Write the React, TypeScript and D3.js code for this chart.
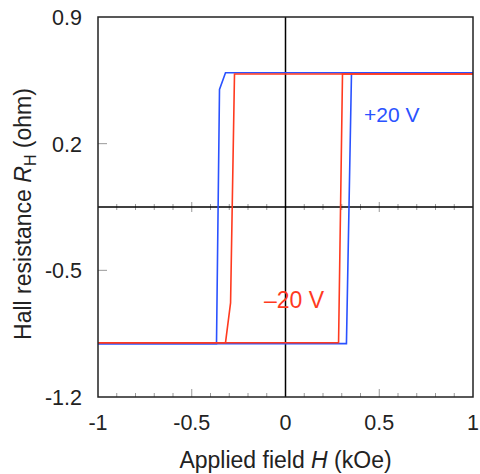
import React from "react";
import * as d3 from "d3";

const xTicks = [-1, -0.5, 0, 0.5, 1];
const xTickLabels = ["-1", "-0.5", "0", "0.5", "1"];
const yTicks = [0.9, 0.2, -0.5, -1.2];
const yTickLabels = ["0.9", "0.2", "-0.5", "-1.2"];
const minorX = d3.range(-9, 10).map((i) => i / 10);

// +20 V loop (H in kOe, R_H in ohm)
const bluePosH = [1, -0.32, -0.352, -0.368, -1];
const bluePosR = [0.592, 0.592, 0.5, -0.905, -0.905];
const blueRetH = [-1, 0.325, 0.352, 1];
const blueRetR = [-0.905, -0.905, 0.592, 0.592];

// -20 V loop
const redPosH = [1, -0.272, -0.293, -0.32, -1];
const redPosR = [0.585, 0.585, -0.68, -0.9, -0.9];
const redRetH = [-1, 0.283, 0.304, 1];
const redRetR = [-0.9, -0.9, 0.585, 0.585];

const W = 480, H = 474;
const L = 98, R = 473, T = 17, B = 397;
const BLUE = "#2a52ff";
const RED = "#ff3a1f";
const FONT = "Liberation Sans, Arial, sans-serif";

export default function App() {
  const x = d3.scaleLinear().domain([-1, 1]).range([L, R]);
  const y = d3.scaleLinear().domain([-1.2, 0.9]).range([B, T]);
  const line = d3.line<[number, number]>().x((d) => x(d[0])).y((d) => y(d[1]));
  const zip = (a: number[], b: number[]) => a.map((v, i) => [v, b[i]] as [number, number]);
  const midY = y(-0.15);

  return (
    <svg width={W} height={H} style={{ display: "block", position: "absolute", left: 0, top: 0 }} fontFamily={FONT}>
      <rect x={0} y={0} width={W} height={H} fill="#fff" />
      {/* minor ticks on bottom axis and midline */}
      {minorX.map((v) => {
        const major = Math.abs(Math.abs(v) - 0.5) < 1e-6;
        const isZero = Math.abs(v) < 1e-6;
        if (isZero) return null;
        return (
          <g key={v} stroke="#999" strokeWidth={1}>
            <line x1={x(v)} x2={x(v)} y1={B} y2={B - (major ? 8 : 4)} />
            <line x1={x(v)} x2={x(v)} y1={midY - (major ? 5 : 3)} y2={midY + (major ? 5 : 3)} />
          </g>
        );
      })}
      {/* y ticks */}
      {[0.2, -0.5].map((v) => (
        <line key={v} x1={L} x2={L + 9} y1={y(v)} y2={y(v)} stroke="#999" strokeWidth={1} />
      ))}
      {/* center lines */}
      <line x1={L} x2={R} y1={midY} y2={midY} stroke="#000" strokeWidth={1.5} />
      <line x1={x(0)} x2={x(0)} y1={T} y2={B} stroke="#000" strokeWidth={1.5} />
      {/* curves */}
      <path d={line(zip(bluePosH, bluePosR)) || ""} fill="none" stroke={BLUE} strokeWidth={1.6} />
      <path d={line(zip(blueRetH, blueRetR)) || ""} fill="none" stroke={BLUE} strokeWidth={1.6} />
      <path d={line(zip(redPosH, redPosR)) || ""} fill="none" stroke={RED} strokeWidth={1.6} />
      <path d={line(zip(redRetH, redRetR)) || ""} fill="none" stroke={RED} strokeWidth={1.6} />
      {/* frame */}
      <rect x={L} y={T} width={R - L} height={B - T} fill="none" stroke="#222" strokeWidth={1.5} />
      {/* tick labels */}
      {xTicks.map((v, i) => (
        <text key={v} x={x(v)} y={430} textAnchor="middle" fontSize={21.5} fill="#222">
          {xTickLabels[i]}
        </text>
      ))}
      {yTicks.map((v, i) => (
        <text key={v} x={82} y={y(v) + 8} textAnchor="end" fontSize={21.5} fill="#222">
          {yTickLabels[i]}
        </text>
      ))}
      {/* axis titles */}
      <text x={x(0)} y={468} textAnchor="middle" fontSize={23} fill="#222">
        Applied field <tspan fontStyle="italic">H</tspan> (kOe)
      </text>
      <text transform={`translate(31, 214) rotate(-90)`} textAnchor="middle" fontSize={23} fill="#222">
        Hall resistance <tspan fontStyle="italic">R</tspan>
        <tspan fontSize={16} dy={5}>H</tspan>
        <tspan dy={-5}> (ohm)</tspan>
      </text>
      {/* legend labels */}
      <text x={364} y={122} fontSize={21} fill={BLUE}>+20 V</text>
      <text x={264} y={308} fontSize={23} fill={RED}>{"\u201320 V"}</text>
    </svg>
  );
}
